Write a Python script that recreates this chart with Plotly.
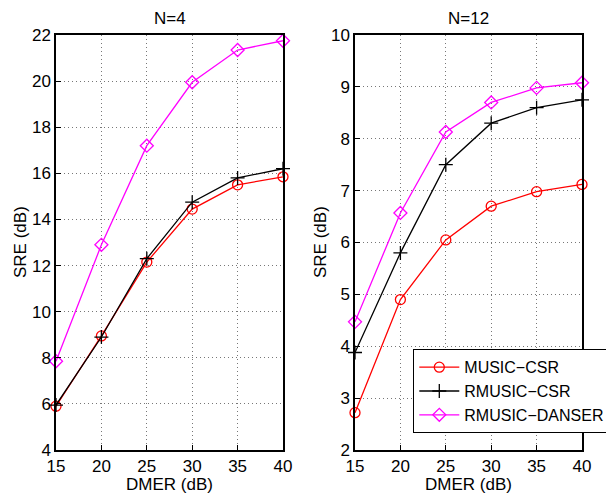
import plotly.graph_objects as go
from plotly.subplots import make_subplots

dmer = [15, 20, 25, 30, 35, 40]
n4_music_csr = [5.9, 8.95, 12.15, 14.45, 15.5, 15.85]
n4_rmusic_csr = [5.95, 8.9, 12.3, 14.75, 15.8, 16.2]
n4_rmusic_danser = [7.85, 12.9, 17.2, 19.95, 21.35, 21.75]
n12_music_csr = [2.72, 4.9, 6.05, 6.7, 6.98, 7.12]
n12_rmusic_csr = [3.88, 5.8, 7.5, 8.3, 8.6, 8.75]
n12_rmusic_danser = [4.47, 6.57, 8.13, 8.7, 8.98, 9.08]
series_names = ["MUSIC\u2212CSR", "RMUSIC\u2212CSR", "RMUSIC\u2212DANSER"]
titles = ["N=4", "N=12"]

W, H = 606, 494
FONT = "Liberation Sans, Arial, Helvetica, sans-serif"
FS = 17

fig = make_subplots(rows=1, cols=2)

styles = [
    dict(color="#ff0000", symbol="circle-open", size=10),
    dict(color="#000000", symbol="cross-thin-open", size=10),
    dict(color="#ff00ff", symbol="diamond-open", size=10),
]

for col, data in enumerate([[n4_music_csr, n4_rmusic_csr, n4_rmusic_danser],
                            [n12_music_csr, n12_rmusic_csr, n12_rmusic_danser]], start=1):
    for i, (ys, st) in enumerate(zip(data, styles)):
        fig.add_trace(go.Scatter(
            x=dmer, y=ys, mode="lines+markers", name=series_names[i],
            showlegend=(col == 2),
            line=dict(color=st["color"], width=1.3),
            marker=dict(symbol=st["symbol"], size=st["size"], color=st["color"],
                        line=dict(color=st["color"], width=1.3)),
            cliponaxis=False,
        ), row=1, col=col)

def px_x(p):
    return p / W

def px_y(p):
    return 1 - p / H

axis_common = dict(
    showline=True, linecolor="black", linewidth=1.5, mirror=True,
    ticks="inside", ticklen=5, tickcolor="black",
    showgrid=True, gridcolor="#777777", griddash="1px,3px", gridwidth=1,
    zeroline=False, automargin=False,
    tickfont=dict(family=FONT, size=FS, color="black"),
)

fig.update_xaxes(**axis_common, range=[15, 40], tickvals=dmer, ticktext=[str(v) for v in dmer])
fig.update_layout(
    xaxis=dict(domain=[px_x(56), px_x(283)]),
    xaxis2=dict(domain=[px_x(355), px_x(582)]),
)
fig.update_yaxes(**axis_common)
fig.update_layout(
    yaxis=dict(domain=[px_y(450), px_y(35)], range=[4, 22], dtick=2),
    yaxis2=dict(domain=[px_y(450), px_y(35)], range=[2, 10], dtick=1),
)

ann = []
for cx, t in [((56 + 283) / 2, titles[0]), ((355 + 582) / 2, titles[1])]:
    ann.append(dict(x=px_x(cx), y=px_y(19), xref="paper", yref="paper", text=t,
                    showarrow=False, font=dict(family=FONT, size=FS, color="black"),
                    xanchor="center", yanchor="middle"))
    ann.append(dict(x=px_x(cx), y=px_y(484), xref="paper", yref="paper", text="DMER (dB)",
                    showarrow=False, font=dict(family=FONT, size=FS, color="black"),
                    xanchor="center", yanchor="middle"))
for x0 in [20, 320]:
    ann.append(dict(x=px_x(x0), y=px_y(242), xref="paper", yref="paper", text="SRE (dB)",
                    showarrow=False, textangle=-90, font=dict(family=FONT, size=FS, color="black"),
                    xanchor="center", yanchor="middle"))

fig.update_layout(
    width=W, height=H,
    margin=dict(l=0, r=0, t=0, b=0, autoexpand=False),
    paper_bgcolor="white", plot_bgcolor="white",
    annotations=ann,
    showlegend=True,
    legend=dict(x=px_x(413), y=px_y(349), xanchor="left", yanchor="top",
                bgcolor="white", bordercolor="black", borderwidth=1.3,
                font=dict(family=FONT, size=16, color="black"),
                tracegroupgap=0, itemwidth=40),
)

fig.write_html("out.html", config={"displayModeBar": False},
               post_script="document.body.style.margin='0';document.body.style.padding='0';")
